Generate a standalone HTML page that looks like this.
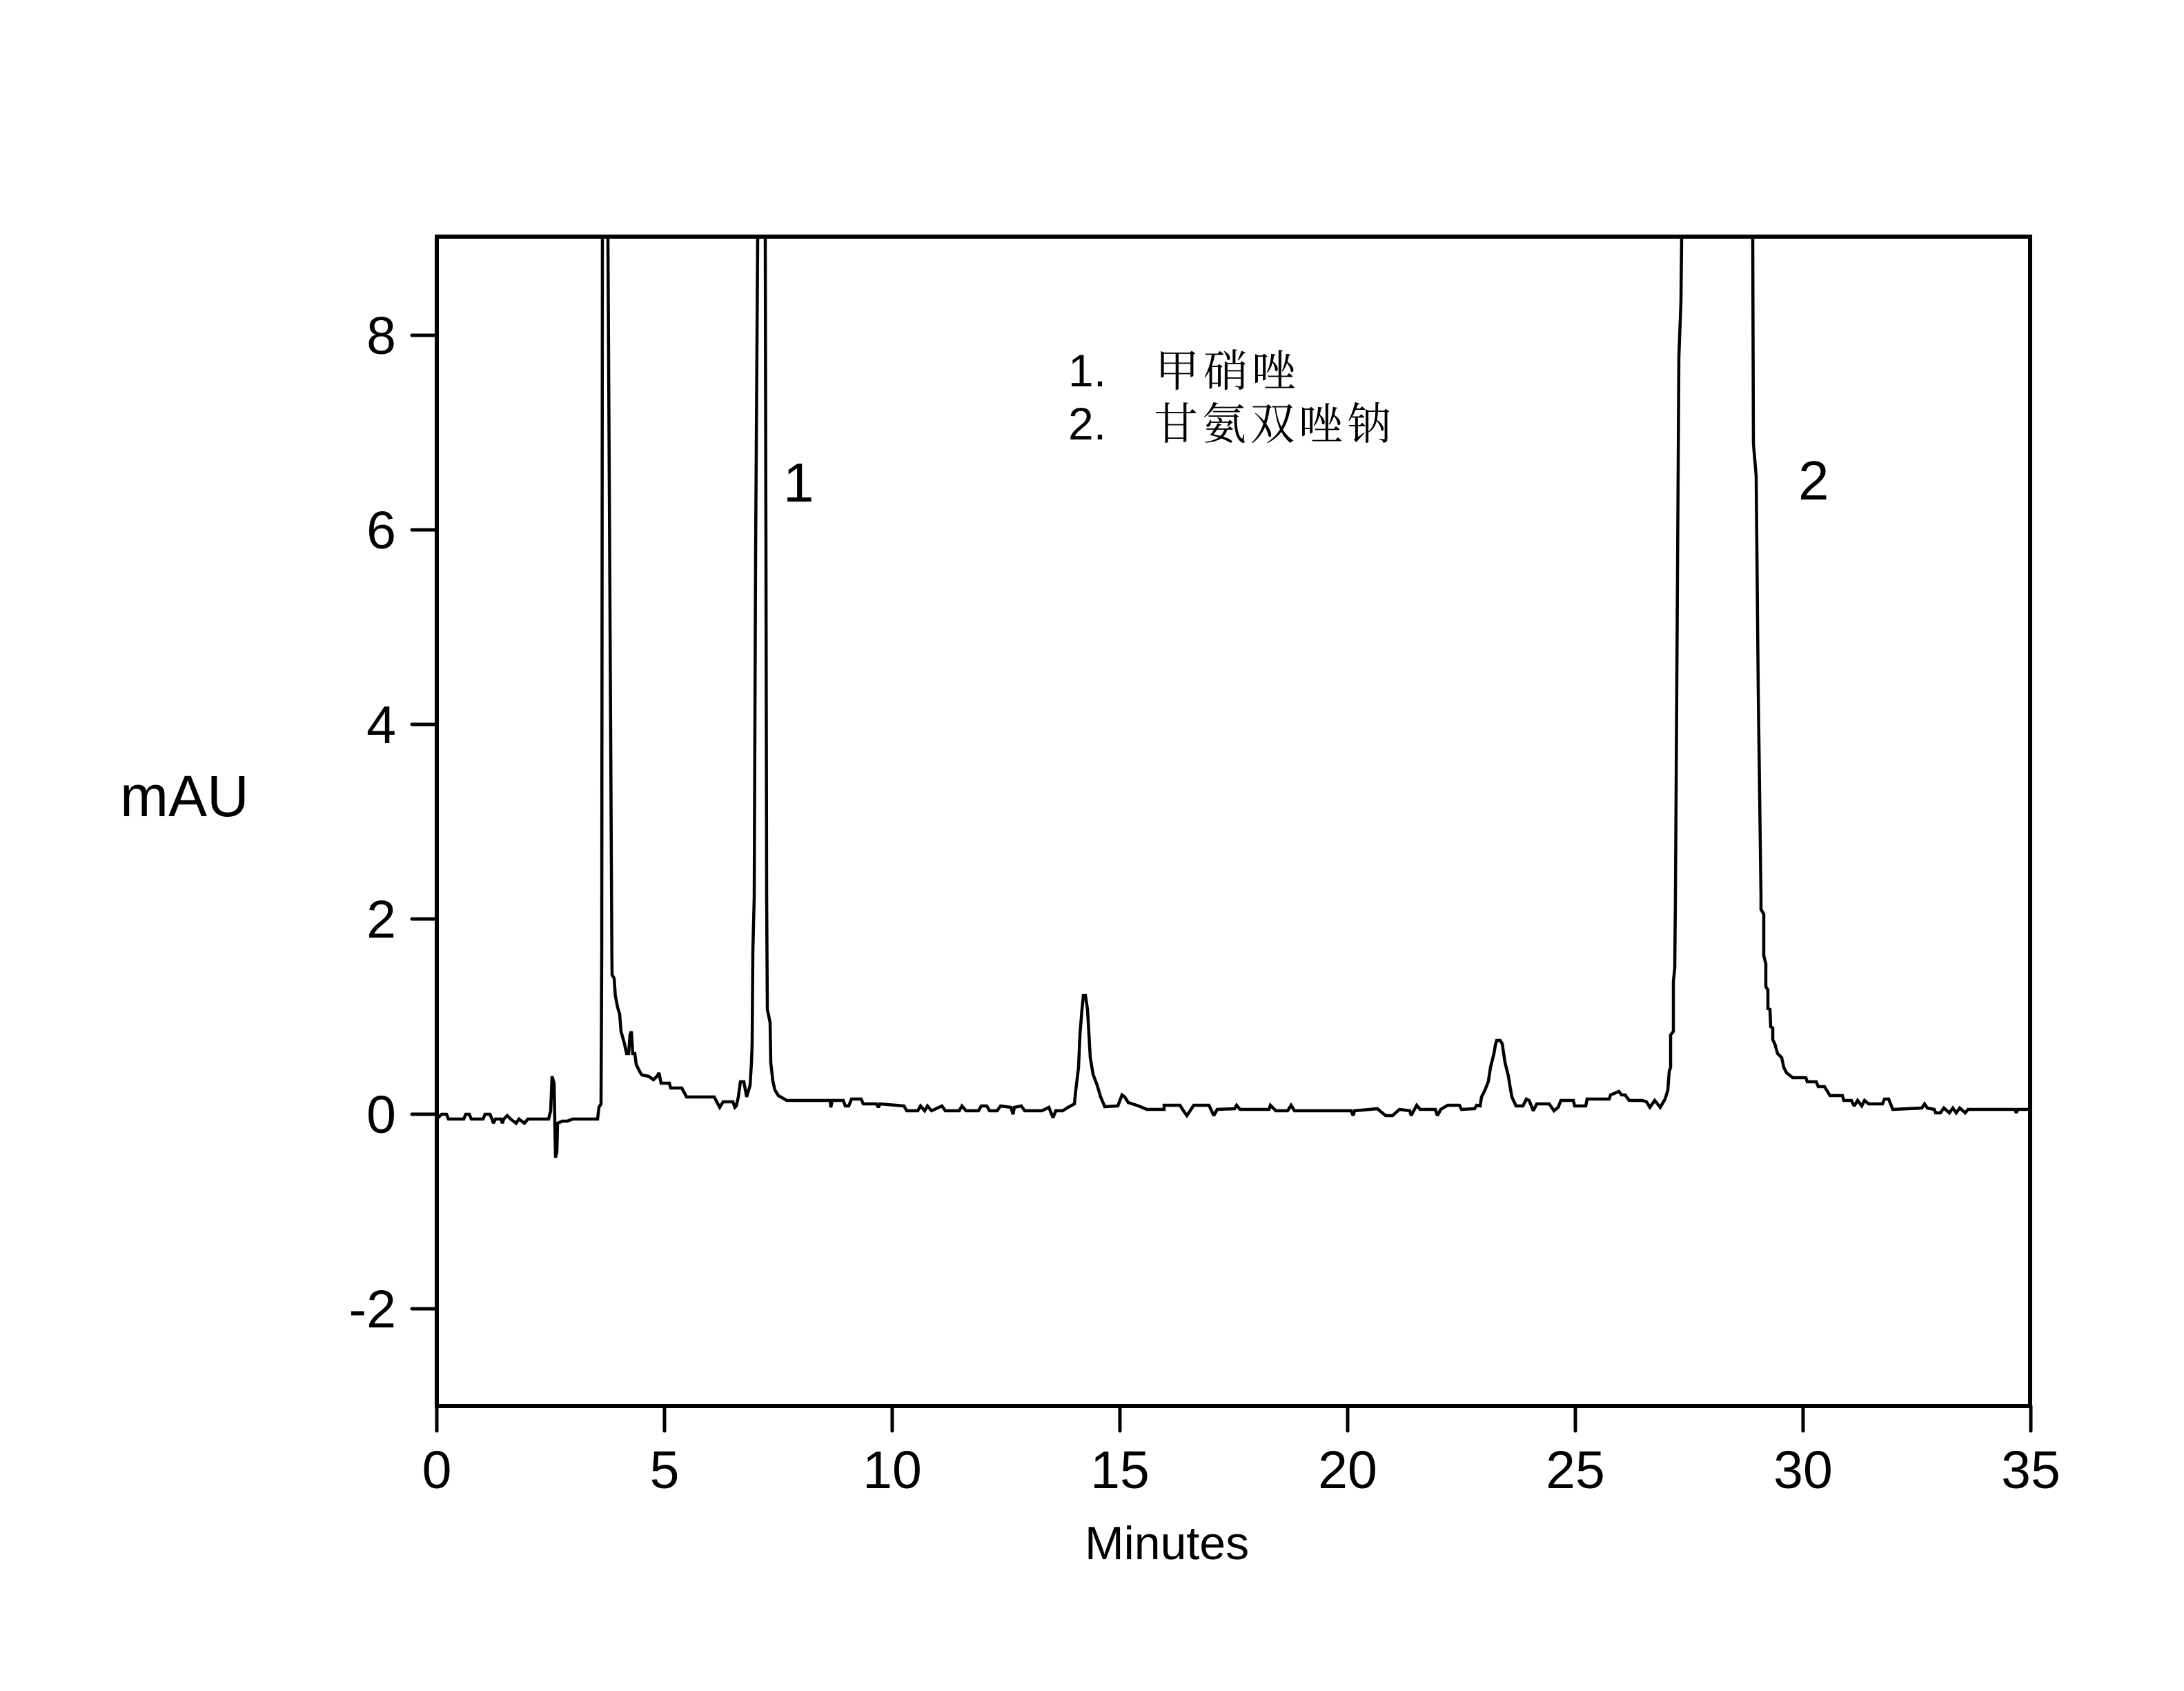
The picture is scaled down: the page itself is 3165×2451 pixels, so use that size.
<!DOCTYPE html>
<html>
<head>
<meta charset="utf-8">
<style>
html,body{margin:0;padding:0;background:#fff;}
svg{display:block;}
</style>
</head>
<body>
<svg width="3165" height="2451" viewBox="0 0 3165 2451" xmlns="http://www.w3.org/2000/svg">
<rect x="0" y="0" width="3165" height="2451" fill="#fff"/>
<defs>
<clipPath id="pc"><rect x="633" y="343" width="2309" height="1695"/></clipPath>
</defs>

<g clip-path="url(#pc)">
<polyline fill="none" stroke="#000" stroke-width="4.5" stroke-linejoin="miter" stroke-miterlimit="2"
points="633,1622 640,1615 647,1615 650,1622 672,1622 675,1615 680,1615 683,1622 700,1622 703,1615 710,1615 713,1622 715,1628 718,1622 726,1622 728,1628 730,1622 735,1617 740,1622 748,1628 752,1622 760,1628 765,1622 775,1622 795,1622 798,1610 800,1560 803,1570 805,1678 807,1670 808,1628 815,1625 822,1625 830,1622 850,1622 866,1622 868,1605 871,1600 872,1380 873,343 873.5,200 880,200 881,343 886.7,1380 887,1413 890,1418 891.7,1443 895,1460 898,1470 900,1495 905,1513 908,1527 911,1527 913,1500 915,1495 917,1527 920,1527 922,1543 927,1553 930,1558 940,1560 947,1565 952,1560 955,1555 958,1570 970,1570 972,1577 988,1577 995,1590 1035,1590 1043,1605 1048,1597 1062,1597 1065,1605 1067,1603 1070,1590 1073,1568 1078,1568 1082,1590 1087,1573 1089,1540 1090,1513 1091,1380 1093,1300 1095,800 1098,343 1098.5,200 1108,200 1109,343 1110,800 1111,1300 1112,1463 1116,1482 1117,1540 1120,1567 1123,1580 1128,1588 1140,1595 1203,1595 1204,1605 1206,1595 1222,1595 1225,1603 1230,1603 1234,1593 1248,1593 1251,1600 1270,1600 1273,1605 1275,1600 1310,1603 1314,1610 1330,1610 1334,1603 1340,1610 1344,1603 1350,1610 1365,1603 1370,1610 1390,1610 1394,1603 1400,1610 1418,1610 1422,1603 1430,1603 1434,1610 1445,1610 1450,1603 1465,1605 1468,1615 1470,1605 1480,1603 1485,1610 1510,1610 1520,1605 1526,1620 1530,1610 1540,1610 1548,1605 1557,1600 1559,1580 1563,1547 1565,1500 1568,1463 1570,1443 1573,1443 1576,1463 1580,1533 1584,1557 1590,1573 1595,1590 1601,1604 1620,1603 1626,1587 1630,1590 1635,1598 1650,1603 1662,1608 1687,1608 1687,1602 1710,1602 1715,1610 1720,1617 1730,1602 1752,1602 1759,1617 1764,1608 1789,1607 1792,1602 1797,1608 1839,1608 1841,1602 1849,1610 1866,1610 1871,1602 1876,1610 1958,1610 1961,1617 1963,1610 1996,1607 2008,1617 2018,1617 2028,1608 2043,1610 2045,1617 2053,1602 2058,1608 2080,1608 2083,1617 2088,1608 2098,1602 2115,1602 2118,1608 2137,1607 2140,1602 2145,1603 2147,1590 2152,1580 2157,1567 2160,1547 2165,1527 2167,1515 2169,1508 2174,1508 2177,1513 2181,1540 2186,1560 2188,1573 2191,1590 2197,1603 2207,1603 2212,1593 2216,1595 2222,1610 2227,1600 2245,1600 2252,1610 2258,1605 2262,1595 2280,1595 2282,1603 2298,1603 2300,1593 2332,1593 2334,1587 2346,1582 2350,1587 2355,1587 2361,1595 2380,1595 2386,1597 2391,1605 2398,1595 2406,1605 2413,1593 2417,1580 2419,1553 2421,1547 2421,1500 2425,1495 2425,1423 2427,1403 2428,1300 2433,517 2436,437 2437,343 2437.5,200 2540,200 2540,343 2541,643 2545,690 2548,1000 2552,1300 2552,1318 2556,1325 2556,1385 2559,1397 2559,1430 2562,1435 2562,1462 2565,1463 2566,1488 2569,1490 2569,1507 2572,1513 2576,1527 2582,1533 2585,1547 2589,1555 2598,1562 2617,1562 2619,1568 2632,1568 2635,1575 2644,1575 2652,1588 2670,1588 2672,1595 2683,1595 2687,1603 2692,1595 2698,1603 2702,1595 2708,1600 2728,1600 2731,1593 2737,1593 2743,1608 2785,1606 2789,1600 2793,1606 2803,1608 2805,1613 2812,1613 2817,1606 2825,1613 2830,1606 2835,1613 2840,1606 2848,1613 2852,1608 2885,1608 2920,1608 2922,1613 2924,1608 2942,1608"/>
</g>

<!-- frame -->
<rect x="633" y="343" width="2309" height="1695" fill="none" stroke="#000" stroke-width="6"/>

<!-- y ticks -->
<g stroke="#000" stroke-width="5" stroke-linecap="round">
<line x1="597" y1="486" x2="633" y2="486"/>
<line x1="597" y1="768" x2="633" y2="768"/>
<line x1="597" y1="1050" x2="633" y2="1050"/>
<line x1="597" y1="1332" x2="633" y2="1332"/>
<line x1="597" y1="1615" x2="633" y2="1615"/>
<line x1="597" y1="1897" x2="633" y2="1897"/>
<!-- x ticks -->
<line x1="633" y1="2038" x2="633" y2="2074"/>
<line x1="963" y1="2038" x2="963" y2="2074"/>
<line x1="1293" y1="2038" x2="1293" y2="2074"/>
<line x1="1623" y1="2038" x2="1623" y2="2074"/>
<line x1="1953" y1="2038" x2="1953" y2="2074"/>
<line x1="2283" y1="2038" x2="2283" y2="2074"/>
<line x1="2613" y1="2038" x2="2613" y2="2074"/>
<line x1="2943" y1="2038" x2="2943" y2="2074"/>
</g>

<g font-family="'Liberation Sans', Arial, sans-serif" font-size="77" fill="#000">
<g text-anchor="end">
<text x="574" y="513">8</text>
<text x="574" y="795">6</text>
<text x="574" y="1077">4</text>
<text x="574" y="1359">2</text>
<text x="574" y="1642">0</text>
<text x="574" y="1924">-2</text>
</g>
<g text-anchor="middle">
<text x="633" y="2157">0</text>
<text x="963" y="2157">5</text>
<text x="1293" y="2157">10</text>
<text x="1623" y="2157">15</text>
<text x="1953" y="2157">20</text>
<text x="2283" y="2157">25</text>
<text x="2613" y="2157">30</text>
<text x="2943" y="2157">35</text>
</g>
</g>

<text x="174" y="1183" font-family="'Liberation Sans', Arial, sans-serif" font-size="84" fill="#000">mAU</text>
<text x="1572" y="2260" font-family="'Liberation Sans', Arial, sans-serif" font-size="68" fill="#000">Minutes</text>

<!-- peak labels -->
<text x="1135" y="727" font-family="'Liberation Sans', Arial, sans-serif" font-size="80" fill="#000">1</text>
<text x="2606" y="724" font-family="'Liberation Sans', Arial, sans-serif" font-size="80" fill="#000">2</text>

<!-- legend -->
<g fill="#000">
<text x="1548" y="560" font-family="'Liberation Sans', Arial, sans-serif" font-size="66">1.</text>
<text x="1674" y="560" font-family="'Noto Serif CJK SC', 'Noto Sans CJK SC', serif" font-size="64" letter-spacing="6">甲硝唑</text>
<text x="1548" y="637" font-family="'Liberation Sans', Arial, sans-serif" font-size="66">2.</text>
<text x="1672" y="637" font-family="'Noto Serif CJK SC', 'Noto Sans CJK SC', serif" font-size="64" letter-spacing="6">甘氨双唑钠</text>
</g>
</svg>
</body>
</html>
